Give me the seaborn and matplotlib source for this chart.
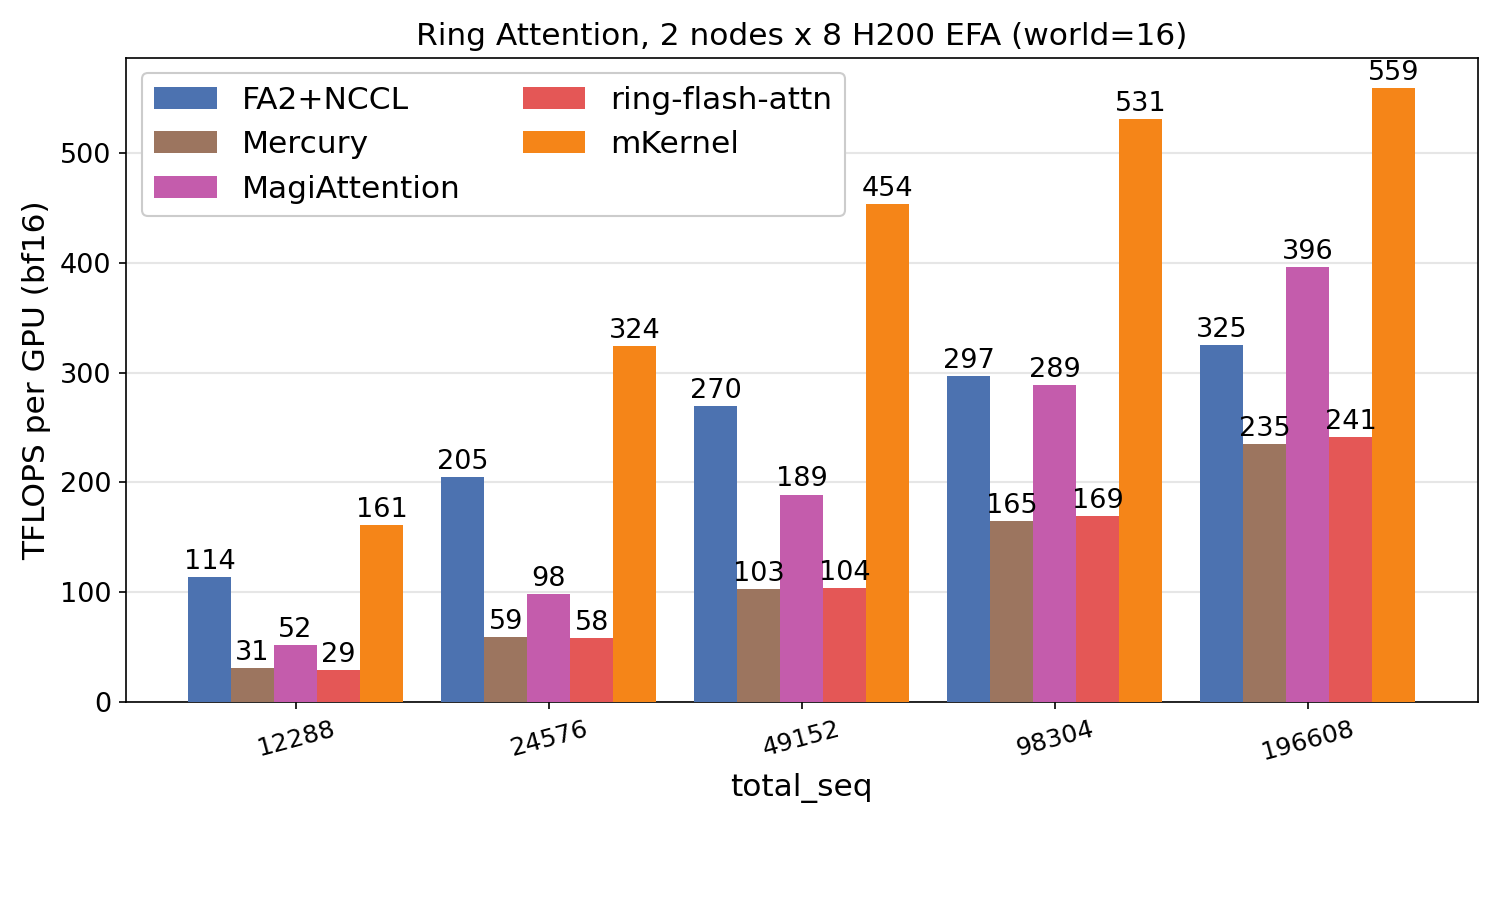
import pandas as pd
import matplotlib
matplotlib.use("Agg")
import matplotlib.pyplot as plt
import seaborn as sns

# values
seq_lens = ["12288", "24576", "49152", "98304", "196608"]
impls = ["FA2+NCCL", "Mercury", "MagiAttention", "ring-flash-attn", "mKernel"]
fa2_nccl = [114, 205, 270, 297, 325]
mercury = [31, 59, 103, 165, 235]
magi = [52, 98, 189, 289, 396]
ring_flash = [29, 58, 104, 169, 241]
mkernel = [161, 324, 454, 531, 559]
colors = ["#4c72b0", "#9c755f", "#c45cac", "#e45756", "#f58518"]

series = [fa2_nccl, mercury, magi, ring_flash, mkernel]
rows = []
for name, vals in zip(impls, series):
    for s, v in zip(seq_lens, vals):
        rows.append({"total_seq": s, "tflops": v, "impl": name})
df = pd.DataFrame(rows)

plt.rcParams["font.family"] = ["DejaVu Sans"]

fig, ax = plt.subplots(figsize=(10, 6), dpi=150)
fig.subplots_adjust(left=0.084, right=0.985, top=0.936, bottom=0.22)

sns.barplot(data=df, x="total_seq", y="tflops", hue="impl", order=seq_lens,
            hue_order=impls, palette=colors, width=0.85, saturation=1,
            gap=0, linewidth=0, ax=ax, zorder=3)

for cont in ax.containers:
    ax.bar_label(cont, fmt="%d", fontsize=13, padding=1)

ax.set_xlim(-0.67, 4.67)
ax.set_ylim(0, 587)
ax.yaxis.grid(True, color="#e6e6e6", linewidth=1, zorder=0)
ax.set_axisbelow(True)
ax.tick_params(axis="y", labelsize=13)
ax.tick_params(axis="x", labelsize=12)
plt.setp(ax.get_xticklabels(), rotation=15)
ax.set_title("Ring Attention, 2 nodes x 8 H200 EFA (world=16)", fontsize=15)
ax.set_xlabel("total_seq", fontsize=15)
ax.set_ylabel("TFLOPS per GPU (bf16)", fontsize=15)
ax.legend(loc="upper left", ncol=2, fontsize=15, title=None, framealpha=1)

plt.savefig("out.png", dpi=150)
